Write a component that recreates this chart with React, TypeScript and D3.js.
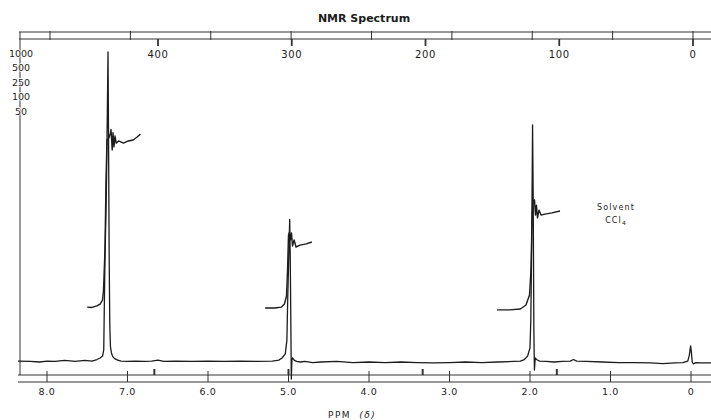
import React from "react";
import * as d3 from "d3";

const W = 711;
const H = 420;

const chartTitle = "NMR Spectrum";
const axisTitle = "PPM";
const axisSymbol = "(δ)";
const solventLines = ["Solvent", "CCl"];
const solventSub = "4";

// chemical shift axis (bottom)
const ppmTicks = [8, 7, 6, 5, 4, 3, 2, 1, 0];
const ppmTickLabels = ["8.0", "7.0", "6.0", "5.0", "4.0", "3.0", "2.0", "1.0", "0"];
// frequency axis (top), 60 MHz instrument
const spectrometerMHz = 60;
const hzTicks = [400, 300, 200, 100, 0];
const hzTickLabels = ["400", "300", "200", "100", "0"];
const hzMarkers = [400, 300, 200, 100];
// sweep / amplitude settings at the left
const amplitudeLabels = ["1000", "500", "250", "100", "50"];

// trace: [ppm, signal]
const spectrum: [number, number][] = [
  [8.36, 0.3], [8.21, 0.2], [8.09, 0], [8.0, 0.3], [7.9, 0.2], [7.78, 0.5], [7.65, 0.2],
  [7.53, 0.5], [7.44, 0.3], [7.38, 0.8], [7.34, 1.3], [7.31, 1.9], [7.295, 3.9], [7.287, 20],
  [7.28, 33.5], [7.27, 45], [7.26, 60], [7.25, 82], [7.242, 100], [7.235, 70], [7.228, 35],
  [7.22, 12], [7.212, 5], [7.2, 3], [7.185, 1.8], [7.16, 1.1], [7.12, 0.6], [7.08, 0.3],
  [7.0, 0.2], [6.9, 0.3], [6.8, 0.2], [6.7, 0.3], [6.62, 0.6], [6.55, 0.2], [6.4, 0.3],
  [6.2, 0.2], [6.0, 0.3], [5.8, 0.2], [5.6, 0.3], [5.4, 0.2], [5.2, 0.3], [5.12, 0.6],
  [5.08, 1.3], [5.04, 2.6], [5.02, 7], [5.01, 20], [4.995, 36], [4.985, 46], [4.978, 33],
  [4.97, 10], [4.965, -5.5], [4.958, 0.6], [4.95, 1.3], [4.93, 0.6], [4.9, 0.2], [4.85, 0],
  [4.8, 0.2], [4.7, -0.2], [4.6, 0], [4.4, 0.2], [4.2, -0.2], [4.0, 0], [3.8, -0.2], [3.6, 0],
  [3.4, -0.2], [3.2, -0.3], [3.0, -0.2], [2.8, 0], [2.6, -0.2], [2.4, 0], [2.2, 0.2],
  [2.12, 0.3], [2.07, 0.8], [2.03, 1.9], [2.0, 4.5], [1.99, 13.5], [1.98, 36], [1.968, 76.5],
  [1.96, 52], [1.952, 10], [1.945, -2.6], [1.935, 1.3], [1.92, 0.8], [1.88, 0.3], [1.8, 0.2],
  [1.7, 0], [1.6, 0.2], [1.5, 0.3], [1.46, 0.8], [1.42, 0.3], [1.3, 0.2], [1.1, 0],
  [0.9, -0.2], [0.7, -0.2], [0.5, -0.3], [0.35, -0.5], [0.2, -0.3], [0.1, -0.2], [0.04, 0.3],
  [0.02, 2.3], [0.005, 5.2], [-0.005, 3.2], [-0.015, 0], [-0.03, -0.6], [-0.06, -0.2],
  [-0.12, -0.3], [-0.25, -0.3],
];

// integrator pen traces
const integralPhenyl: [number, number][] = [
  [7.5, 17.7], [7.44, 17.6], [7.38, 18.1], [7.34, 18.7], [7.31, 20], [7.298, 23.2], [7.28, 36],
  [7.267, 58.7], [7.255, 71.6], [7.23, 72.3], [7.21, 74], [7.205, 75], [7.19, 68.4],
  [7.18, 74], [7.168, 69.4], [7.155, 72.9], [7.14, 70.6], [7.11, 71.3], [7.05, 70.6],
  [6.99, 71.3], [6.93, 71.6], [6.88, 72.6], [6.84, 73.5],
];
const integralMethylene: [number, number][] = [
  [5.29, 17.4], [5.17, 17.4], [5.09, 17.7], [5.05, 18.7], [5.025, 21.3], [5.012, 29.7],
  [5.0, 41], [4.988, 41.9], [4.975, 39.4], [4.963, 41.6], [4.95, 37.4], [4.93, 39.4],
  [4.907, 37.1], [4.857, 37.7], [4.78, 38.1], [4.71, 38.7],
];
const integralMethyl: [number, number][] = [
  [2.41, 16.8], [2.25, 16.8], [2.12, 17.1], [2.05, 18.4], [2.006, 21.6], [1.988, 29.7],
  [1.975, 45.8], [1.963, 51.6], [1.944, 52.3], [1.932, 47.4], [1.92, 50.6], [1.907, 46.5],
  [1.888, 49], [1.863, 47.4], [1.814, 47.7], [1.727, 48.1], [1.627, 48.7],
];

const ink = "#1c1c1c";
const font = "DejaVu Sans, sans-serif";

export default function App() {
  const x = d3.scaleLinear().domain([8, 0]).range([47, 691]);
  const xTop = d3.scaleLinear().domain([8, 0]).range([50, 693]);
  const hz = d3.scaleLinear().domain([400, 0]).range([158, 693]);
  const y = d3.scaleLinear().domain([0, 100]).range([362, 52]);
  const amp = d3.scalePoint<string>().domain(amplitudeLabels).range([53, 111]);

  const line = d3
    .line<[number, number]>()
    .x((d) => x(d[0]))
    .y((d) => y(d[1]));

  const left = 19;
  const topA = 32;
  const topB = 39;
  const botA = 375;
  const botB = 382;

  return (
    <svg
      width={W}
      height={H}
      style={{ position: "absolute", left: 0, top: 0, background: "#fff" }}
      fontFamily={font}
    >
      {/* title */}
      <text x={364} y={22} textAnchor="middle" fontSize={11} fontWeight="bold" fill={ink}>
        {chartTitle}
      </text>

      {/* top frequency scale */}
      <g stroke="#333" strokeWidth={1}>
        <line x1={left} x2={W} y1={topA} y2={topA} />
        <line x1={left} x2={W} y1={topB} y2={topB} />
        {ppmTicks.map((t) => (
          <line key={"tp" + t} x1={xTop(t)} x2={xTop(t)} y1={topA - 1} y2={topB + 1} />
        ))}
        {hzTicks.map((t) => (
          <line key={"th" + t} x1={hz(t)} x2={hz(t)} y1={topB} y2={topB + 7} strokeWidth={1.8} />
        ))}
      </g>
      {hzTicks.map((t, i) => (
        <text key={"thl" + t} x={hz(t)} y={58} textAnchor="middle" fontSize={10} letterSpacing={0.6} fill={ink}>
          {hzTickLabels[i]}
        </text>
      ))}

      {/* left frame with amplitude settings */}
      <line x1={left + 1} x2={left + 1} y1={topA} y2={botA} stroke="#333" strokeWidth={1} />
      {amplitudeLabels.map((a) => (
        <text
          key={a}
          x={left + 2}
          y={(amp(a) ?? 0) + 3.5}
          textAnchor="middle"
          fontSize={9.5}
          fill={ink}
          stroke="#fff"
          strokeWidth={1.5}
          paintOrder="stroke"
        >
          {a}
        </text>
      ))}

      {/* bottom ppm scale */}
      <g stroke="#333" strokeWidth={1}>
        <line x1={left - 1} x2={W} y1={botA} y2={botA} />
        <line x1={left - 1} x2={W} y1={botB} y2={botB} />
        {ppmTicks.map((t) => (
          <line key={"bp" + t} x1={x(t)} x2={x(t)} y1={botA - 4} y2={botB} />
        ))}
        {hzMarkers.map((h) => (
          <line
            key={"bh" + h}
            x1={x(h / spectrometerMHz)}
            x2={x(h / spectrometerMHz)}
            y1={botA - 6}
            y2={botA}
            strokeWidth={2}
          />
        ))}
      </g>
      {ppmTicks.map((t, i) => (
        <text key={"bpl" + t} x={x(t)} y={395} textAnchor="middle" fontSize={9.5} letterSpacing={0.6} fill={ink}>
          {ppmTickLabels[i]}
        </text>
      ))}
      <text x={328} y={418} fontSize={9} letterSpacing={1.5} fill={ink}>
        {axisTitle}
        <tspan dx={8} fontStyle="italic">{axisSymbol}</tspan>
      </text>

      {/* spectrum and integrals */}
      <path d={line(spectrum) ?? ""} fill="none" stroke={ink} strokeWidth={1.3} strokeLinejoin="round" />
      {[integralPhenyl, integralMethylene, integralMethyl].map((g, i) => (
        <path key={"int" + i} d={line(g) ?? ""} fill="none" stroke={ink} strokeWidth={1.4} strokeLinejoin="round" />
      ))}

      {/* solvent note */}
      <text x={616} y={210} textAnchor="middle" fontSize={8} letterSpacing={1.1} fill={ink}>
        {solventLines[0]}
      </text>
      <text x={616} y={223} textAnchor="middle" fontSize={8} letterSpacing={1.1} fill={ink}>
        {solventLines[1]}
        <tspan fontSize={6} dy={1.5}>{solventSub}</tspan>
      </text>
    </svg>
  );
}
